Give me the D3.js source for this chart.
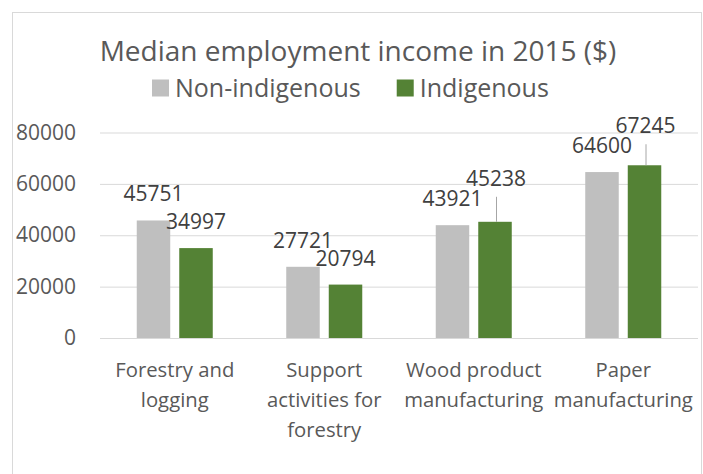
<!DOCTYPE html>
<html>
<head>
<meta charset="utf-8">
<script src="https://cdn.jsdelivr.net/npm/d3@7"></script>
<style>
  body { margin: 0; background: #fff; }
  svg text { font-family: "Open Sans", "DejaVu Sans", sans-serif; }
</style>
</head>
<body>
<svg id="chart" width="703" height="474"></svg>
<script>
// Median employment income by forestry sub-sector, 2015
const categories = [
  "Forestry and\nlogging",
  "Support\nactivities for\nforestry",
  "Wood product\nmanufacturing",
  "Paper\nmanufacturing"
];
const seriesNames = ["Non-indigenous", "Indigenous"];
const nonIndigenous = [45751, 27721, 43921, 64600];
const indigenous = [34997, 20794, 45238, 67245];
const yTicks = [0, 20000, 40000, 60000, 80000];

// Presentation settings
const colors = { "Non-indigenous": "#bfbfbf", "Indigenous": "#548235" };
const textGrey = "#595959";
const labelGrey = "#404040";
const gridGrey = "#d9d9d9";
// extra lift (px) for value labels that are pulled above their bars with a leader line
const labelLift = { "Non-indigenous": [0, 0, 0, 0], "Indigenous": [0, 0, 17, 13] };

const svg = d3.select("#chart");
const plot = { left: 100, right: 698, top: 132.5, bottom: 338 };

// Chart frame
svg.append("rect")
  .attr("x", 12.5).attr("y", 12.5)
  .attr("width", 689).attr("height", 480)
  .attr("fill", "#fff").attr("stroke", gridGrey).attr("stroke-width", 1);

// Title
svg.append("text")
  .attr("x", 358).attr("y", 61)
  .attr("text-anchor", "middle")
  .attr("font-size", 28)
  .attr("fill", textGrey)
  .text("Median employment income in 2015 ($)");

// Scales
const y = d3.scaleLinear().domain([0, 80000]).range([plot.bottom, plot.top]);
const x0 = d3.scaleBand().domain(categories).range([plot.left, plot.right])
  .paddingInner(0.4916).paddingOuter(0.2458);
const x1 = d3.scaleBand().domain(seriesNames).range([0, x0.bandwidth()])
  .paddingInner(0.212).paddingOuter(0);

// Gridlines
svg.append("g")
  .attr("transform", `translate(${plot.left},0)`)
  .call(d3.axisLeft(y).tickValues(yTicks).tickSize(-(plot.right - plot.left)).tickFormat(""))
  .call(g => g.select(".domain").remove())
  .call(g => g.selectAll("line").attr("stroke", gridGrey).attr("stroke-width", 1));

// Y axis labels
svg.append("g")
  .attr("transform", `translate(${plot.left},0)`)
  .call(d3.axisLeft(y).tickValues(yTicks).tickSize(0).tickPadding(24).tickFormat(d3.format("d")))
  .call(g => g.select(".domain").remove())
  .call(g => g.selectAll("text")
    .attr("font-family", null)
    .attr("font-size", 21)
    .attr("fill", textGrey));

// X axis category labels (multi-line)
const xAxis = svg.append("g")
  .attr("transform", `translate(0,${plot.bottom})`)
  .call(d3.axisBottom(x0).tickSize(0))
  .call(g => g.select(".domain").remove());
xAxis.selectAll(".tick text").each(function(d) {
  const t = d3.select(this);
  t.text(null).attr("dy", null).attr("y", null)
    .attr("font-family", null).attr("font-size", 20.3).attr("fill", textGrey);
  d.split("\n").forEach((line, i) => {
    t.append("tspan").attr("x", 0).attr("y", 39 + i * 30).text(line);
  });
});

// Bars
const rows = categories.map((c, i) => ({
  category: c,
  values: [
    { series: "Non-indigenous", value: nonIndigenous[i], idx: i },
    { series: "Indigenous", value: indigenous[i], idx: i }
  ]
}));

const groups = svg.append("g").selectAll("g")
  .data(rows).join("g")
  .attr("transform", d => `translate(${x0(d.category)},0)`);

groups.selectAll("rect")
  .data(d => d.values).join("rect")
  .attr("x", d => x1(d.series))
  .attr("y", d => y(d.value))
  .attr("width", x1.bandwidth())
  .attr("height", d => y(0) - y(d.value))
  .attr("fill", d => colors[d.series]);

// Leader lines for lifted labels
groups.selectAll("line.leader")
  .data(d => d.values.filter(v => labelLift[v.series][v.idx] > 0)).join("line")
  .attr("class", "leader")
  .attr("x1", d => x1(d.series) + x1.bandwidth() / 2 + 1.5)
  .attr("x2", d => x1(d.series) + x1.bandwidth() / 2 + 1.5)
  .attr("y1", d => y(d.value))
  .attr("y2", d => y(d.value) - 19 - labelLift[d.series][d.idx] + 11)
  .attr("stroke", "#a6a6a6").attr("stroke-width", 1);

// Value labels
groups.selectAll("text.value")
  .data(d => d.values).join("text")
  .attr("class", "value")
  .attr("x", d => x1(d.series) + x1.bandwidth() / 2 + (labelLift[d.series][d.idx] > 0 ? 1 : 0))
  .attr("y", d => y(d.value) - 19 - labelLift[d.series][d.idx])
  .attr("text-anchor", "middle")
  .attr("font-size", 21)
  .attr("fill", labelGrey)
  .text(d => d.value);

// Legend
const legend = svg.append("g");
let lx = 152;
seriesNames.forEach(name => {
  legend.append("rect")
    .attr("x", lx).attr("y", 79.5)
    .attr("width", 17).attr("height", 17)
    .attr("fill", colors[name]);
  const t = legend.append("text")
    .attr("x", lx + 23).attr("y", 97)
    .attr("font-size", 25)
    .attr("fill", textGrey)
    .text(name);
  lx += 23 + t.node().getComputedTextLength() + 36;
});
</script>
</body>
</html>
